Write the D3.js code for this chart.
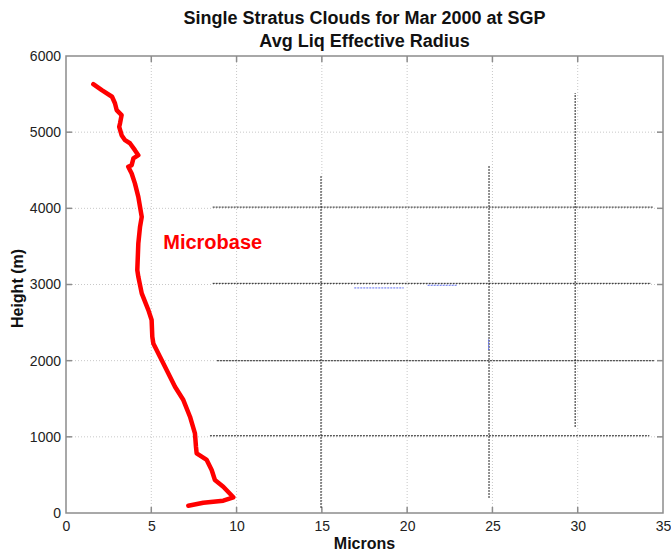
<html>
<head>
<meta charset="utf-8">
<title>Single Stratus Clouds for Mar 2000 at SGP</title>
<script src="https://d3js.org/d3.v7.min.js"></script>
<style>
  body { margin: 0; background: #fff; }
  text { font-family: Arial, "Liberation Sans", sans-serif; }
  .title { font-size: 18px; font-weight: bold; fill: #111; }
  .tick-label { font-size: 14px; fill: #222; }
  .axis-label { font-size: 16px; font-weight: bold; fill: #111; }
  .grid { stroke: #c8c8c8; stroke-width: 1; stroke-dasharray: 1,2; }
  .frame { fill: none; stroke: #8c8c8c; stroke-width: 1.5; }
  .tickmark { stroke: #8c8c8c; stroke-width: 1.5; }
  .overlay { stroke: #222; stroke-width: 1; stroke-dasharray: 2,1; fill: none; }
  .overlay-blue { stroke: #5b6cf0; stroke-width: 1; stroke-dasharray: 2,1; fill: none; }
</style>
</head>
<body>
<svg id="chart" width="671" height="552"></svg>
<script>
// ---- data ----
// avg liquid effective radius (microns) vs height (m)
var radius = [1.6, 2.1, 2.7, 2.87, 2.97, 3.26, 3.17, 3.12, 3.26, 3.46, 3.75, 4.04, 4.24, 3.95, 3.85, 3.65,
              3.85, 4.04, 4.24, 4.44, 4.34, 4.24, 4.18, 4.24, 4.44, 4.83, 5.02, 5.06, 5.12, 5.51, 5.90,
              6.39, 6.88, 7.27, 7.56, 7.62, 7.66, 8.25, 8.54, 8.73, 9.22, 9.81, 9.22, 8.05, 7.17];
var height = [5630, 5551, 5465, 5380, 5290, 5223, 5118, 5070, 4960, 4895, 4855, 4764, 4698, 4655, 4567, 4545,
              4458, 4327, 4151, 3888, 3757, 3539, 3189, 3101, 2883, 2664, 2533, 2314, 2227, 2051, 1877,
              1658, 1483, 1264, 1046, 870, 783, 696, 564, 433, 345, 206, 161, 135, 96];

// stray dark dotted lines in the picture: horizontal [height, xFrom, xTo]
var hLines = [[4016, 8.6, 34.4], [3015, 8.6, 34.3], [1999, 8.85, 34.5], [1014, 8.44, 34.2]];
// vertical [x, hFrom, hTo]
var vLines = [[14.95, 66, 4423], [24.8, 197, 4567], [29.85, 1129, 5512]];
// faint blue bits: [x1, h1, x2, h2]
var blueBits = [[16.9, 2955, 19.8, 2955], [21.2, 2990, 22.9, 2990], [24.78, 2140, 24.78, 2280]];

var xTicks = [0, 5, 10, 15, 20, 25, 30, 35];
var yTicks = [0, 1000, 2000, 3000, 4000, 5000, 6000];
var titleLines = ["Single Stratus Clouds for Mar 2000 at SGP", "Avg Liq Effective Radius"];

// ---- layout ----
var svg = d3.select("#chart");
var plotL = 66, plotR = 663, plotT = 56, plotB = 513;

var x = d3.scaleLinear().domain([0, 35]).range([plotL, plotR]);
var y = d3.scaleLinear().domain([0, 6000]).range([plotB, plotT]);

// grid
svg.append("g").selectAll("line")
    .data(xTicks.slice(1, -1)).enter().append("line")
    .attr("class", "grid")
    .attr("x1", d => x(d)).attr("x2", d => x(d))
    .attr("y1", plotT).attr("y2", plotB);
svg.append("g").selectAll("line")
    .data(yTicks.slice(1, -1)).enter().append("line")
    .attr("class", "grid")
    .attr("y1", d => y(d)).attr("y2", d => y(d))
    .attr("x1", plotL).attr("x2", plotR);

// axes, ticks inside like matlab
var xAxis = d3.axisBottom(x).tickValues(xTicks).tickFormat(d3.format("d")).tickSize(0).tickPadding(8);
var yAxis = d3.axisLeft(y).tickValues(yTicks).tickFormat(d3.format("d")).tickSize(0).tickPadding(5);
var gx = svg.append("g").attr("transform", "translate(0," + plotB + ")").call(xAxis);
var gy = svg.append("g").attr("transform", "translate(" + plotL + ",0)").call(yAxis);
[gx, gy].forEach(function(g) {
    g.attr("font-family", null).attr("font-size", null);
    g.select(".domain").remove();
    g.selectAll("text").attr("class", "tick-label").attr("fill", null);
});

var tk = 6;
svg.append("g").selectAll("line").data(xTicks.slice(1, -1)).enter().append("line")
    .attr("class", "tickmark").attr("x1", d => x(d)).attr("x2", d => x(d)).attr("y1", plotB).attr("y2", plotB - tk);
svg.append("g").selectAll("line").data(xTicks.slice(1, -1)).enter().append("line")
    .attr("class", "tickmark").attr("x1", d => x(d)).attr("x2", d => x(d)).attr("y1", plotT).attr("y2", plotT + tk);
svg.append("g").selectAll("line").data(yTicks.slice(1, -1)).enter().append("line")
    .attr("class", "tickmark").attr("y1", d => y(d)).attr("y2", d => y(d)).attr("x1", plotL).attr("x2", plotL + tk);
svg.append("g").selectAll("line").data(yTicks.slice(1, -1)).enter().append("line")
    .attr("class", "tickmark").attr("y1", d => y(d)).attr("y2", d => y(d)).attr("x1", plotR).attr("x2", plotR - tk);

// stray dotted lines
svg.append("g").selectAll("line").data(hLines).enter().append("line")
    .attr("class", "overlay")
    .attr("x1", d => x(d[1])).attr("x2", d => x(d[2]))
    .attr("y1", d => y(d[0])).attr("y2", d => y(d[0]));
svg.append("g").selectAll("line").data(vLines).enter().append("line")
    .attr("class", "overlay")
    .attr("x1", d => x(d[0])).attr("x2", d => x(d[0]))
    .attr("y1", d => y(d[1])).attr("y2", d => y(d[2]));
svg.append("g").selectAll("line").data(blueBits).enter().append("line")
    .attr("class", "overlay-blue")
    .attr("x1", d => x(d[0])).attr("y1", d => y(d[1]))
    .attr("x2", d => x(d[2])).attr("y2", d => y(d[3]));

// frame
svg.append("rect").attr("class", "frame")
    .attr("x", plotL).attr("y", plotT).attr("width", plotR - plotL).attr("height", plotB - plotT);

// microbase profile
var pts = radius.map((r, i) => [r, height[i]]);
svg.append("path")
    .datum(pts)
    .attr("fill", "none")
    .attr("stroke", "#ff0000")
    .attr("stroke-width", 4.5)
    .attr("stroke-linejoin", "round")
    .attr("stroke-linecap", "round")
    .attr("d", d3.line().x(d => x(d[0])).y(d => y(d[1])));

svg.append("text")
    .attr("x", x(5.7)).attr("y", y(3460))
    .attr("fill", "#ff0000")
    .attr("font-size", "20px").attr("font-weight", "bold")
    .text("Microbase");

// titles
svg.append("g").selectAll("text").data(titleLines).enter().append("text")
    .attr("class", "title")
    .attr("x", (plotL + plotR) / 2)
    .attr("y", (d, i) => 24 + i * 23)
    .attr("text-anchor", "middle")
    .text(d => d);

svg.append("text").attr("class", "axis-label")
    .attr("x", (plotL + plotR) / 2).attr("y", 549)
    .attr("text-anchor", "middle").text("Microns");

svg.append("text").attr("class", "axis-label")
    .attr("transform", "translate(23," + ((plotT + plotB) / 2 + 4) + ") rotate(-90)")
    .attr("text-anchor", "middle").text("Height (m)");
</script>
</body>
</html>
